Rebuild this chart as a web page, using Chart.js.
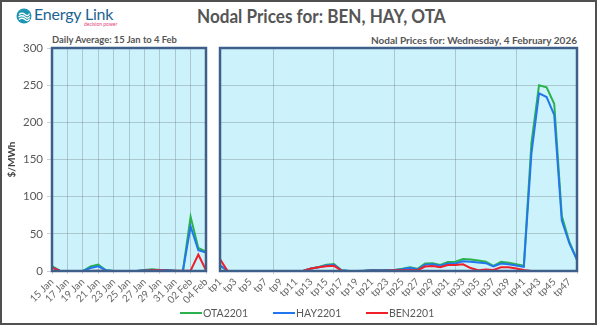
<!DOCTYPE html>
<html>
<head>
<meta charset="utf-8">
<script src="https://cdn.jsdelivr.net/npm/chart.js@4.4.1/dist/chart.umd.min.js"></script>
<style>
  body { margin: 0; background: #fff; font-family: Lato, "Open Sans", sans-serif; }
  #frame { position: absolute; left: 0; top: 0; width: 597px; height: 325px; box-sizing: border-box; border: 2px solid #505050; background: #fff; }
  .abs { position: absolute; white-space: nowrap; }
  #logoText { left: 34px; top: 4px; font-size: 16px; color: #1d6490; letter-spacing: -0.2px; }
  #logoSub { left: 84px; top: 21px; font-size: 5px; color: #e0457b; }
  #title { left: 197px; top: 4px; font-size: 19px; font-weight: bold; color: #555; transform-origin: left top; transform: scaleX(0.9); }
  #subLeft { left: 52px; top: 34px; font-size: 9.4px; font-weight: bold; color: #555; }
  #subRight { right: 23px; top: 34px; font-size: 10px; font-weight: bold; color: #555; }
  canvas { position: absolute; }
  .leg { position: absolute; top: 307px; font-size: 10.5px; color: #595959; }
  .leg i { display: inline-block; width: 22px; height: 2px; vertical-align: middle; margin-right: 1px; position: relative; top: -1px; }
</style>
</head>
<body>
<div id="frame"></div>
<svg class="abs" style="left:16px;top:8px" width="16" height="16" viewBox="0 0 16 16">
  <circle cx="8" cy="8" r="7.5" fill="#1b95b2"/>
  <path d="M3 6.5 Q6 4 9 6.5 T13.5 5.5" stroke="#fff" stroke-width="1.3" fill="none"/>
  <path d="M2.5 9 Q6 6.5 9 9 T14 8" stroke="#fff" stroke-width="1.3" fill="none"/>
  <path d="M3 11.5 Q6 9 9 11.5 T13.5 10.5" stroke="#fff" stroke-width="1.3" fill="none"/>
</svg>
<div id="logoText" class="abs">Energy Link</div>
<div id="logoSub" class="abs">decision power</div>
<div id="title" class="abs">Nodal Prices for: BEN, HAY, OTA</div>
<div id="subLeft" class="abs">Daily Average: 15 Jan to 4 Feb</div>
<div id="subRight" class="abs">Nodal Prices for: Wednesday, 4 February 2026</div>

<canvas id="dailyChart" style="left:0;top:44px" width="208" height="282"></canvas>
<canvas id="tpChart" style="left:200px;top:44px" width="381" height="282"></canvas>

<div class="leg" style="left:180px"><i style="background:#2bb24c"></i>OTA2201</div>
<div class="leg" style="left:273px"><i style="background:#2277ee"></i>HAY2201</div>
<div class="leg" style="left:366px"><i style="background:#f01f2a"></i>BEN2201</div>

<script>
/* data */
const days = ["15 Jan", "16 Jan", "17 Jan", "18 Jan", "19 Jan", "20 Jan", "21 Jan",
  "22 Jan", "23 Jan", "24 Jan", "25 Jan", "26 Jan", "27 Jan", "28 Jan", "29 Jan",
  "30 Jan", "31 Jan", "01 Feb", "02 Feb", "03 Feb", "04 Feb"];
const dailyOTA = [6.5, 0.5, 0, 0, 0, 6, 8.6, 1, 0, 0, 0, 0, 1.5, 2.5, 1.5, 1, 0.5, 0, 73, 31, 26];
const dailyHAY = [5, 0.5, 0, 0, 0, 4, 6.4, 1, 0, 0, 0, 0, 1, 1.5, 1.5, 1.5, 0.5, 0, 60, 28, 25];
const dailyBEN = [4.5, 0.5, 0, 0, 0, 0, 0.5, 0, 0, 0, 0, 0, 0.5, 1, 1, 0.5, 0.5, 0.5, 0.5, 22, 1];

const periods = [];
for (let i = 1; i <= 48; i++) periods.push("tp" + i);
const tpOTA = [7, 0, 0, 0, 0, 0, 0, 0, 0, 0, 0, 0.5, 3.5, 5.5, 8.5, 9.5, 1, 0, 0, 0.5,
  1.5, 1, 1.5, 1.5, 3, 5, 3, 10, 10.5, 8, 12, 12.5, 16, 15.5, 14, 12.5, 7, 12.5, 11, 9,
  7, 172, 250, 247, 225, 74, 39, 15];
const tpHAY = [8, 0, 0, 0, 0, 0, 0, 0, 0, 0, 0, 0.5, 3.5, 5, 7.5, 8.5, 1, 0, 0, 0.5,
  1, 1, 1, 1.5, 2.5, 4.5, 2, 8.5, 9, 7, 10, 10, 13, 12.5, 11.5, 10.5, 6, 10, 9, 7.5,
  5.5, 158, 239, 234, 210, 68, 37, 15];
const tpBEN = [16, 0, 0, 0, 0, 0, 0, 0, 0, 0, 0, 0.5, 3.5, 5, 6.5, 7, 0.5, 0, 0, 0,
  0.5, 0.5, 0.5, 1, 1, 1.5, 1, 6, 6.7, 5, 8, 8, 9, 4, 1, 2, 1.3, 5, 5, 3.5,
  1.3, 0, 0, 0, 0, 0, 0, 0];

const yMin = 0, yMax = 300, yStep = 50;

/* styles */
const colOTA = "#2bb24c", colHAY = "#2277ee", colBEN = "#f01f2a";
const gridCol = "rgba(110,120,125,0.35)";
const tickFont = { family: "Lato", size: 10 };

const plotFrame = {
  id: "plotFrame",
  beforeDraw(chart) {
    const a = chart.chartArea, ctx = chart.ctx;
    ctx.save();
    ctx.fillStyle = "#ccf3fb";
    ctx.fillRect(a.left, a.top, a.right - a.left, a.bottom - a.top);
    ctx.restore();
  },
  afterDraw(chart) {
    const a = chart.chartArea, ctx = chart.ctx;
    ctx.save();
    ctx.strokeStyle = "#3e5f8a";
    ctx.lineWidth = 2.5;
    ctx.strokeRect(a.left, a.top, a.right - a.left, a.bottom - a.top);
    ctx.restore();
  }
};

function lineSet(label, data, color, order) {
  return { label, data, borderColor: color, backgroundColor: color, borderWidth: 2,
    pointRadius: 0, tension: 0, order };
}

/* daily average chart */
new Chart(document.getElementById("dailyChart"), {
  type: "line",
  data: {
    labels: days,
    datasets: [
      lineSet("OTA2201", dailyOTA, colOTA, 3),
      lineSet("HAY2201", dailyHAY, colHAY, 2),
      lineSet("BEN2201", dailyBEN, colBEN, 1)
    ]
  },
  plugins: [plotFrame],
  options: {
    responsive: false,
    animation: false,
    layout: { padding: { top: 4, right: 2, left: 0, bottom: 0 } },
    plugins: { legend: { display: false }, tooltip: { enabled: false } },
    scales: {
      x: {
        grid: { color: ctx => ctx.index % 2 === 0 ? gridCol : "transparent", tickLength: 3 },
        border: { display: false },
        ticks: {
          autoSkip: false, minRotation: 45, maxRotation: 45, padding: 2,
          color: "#666", font: tickFont,
          callback(v, i) { return i % 2 === 0 ? this.getLabelForValue(v) : ""; }
        },
        afterFit(s) { s.height = 55; s.paddingLeft = 0; s.paddingRight = 0; }
      },
      y: {
        min: yMin, max: yMax,
        grid: { color: gridCol, tickLength: 5 },
        border: { display: false },
        ticks: { stepSize: yStep, color: "#595959", font: { family: "Lato", size: 11.5 }, padding: 4 },
        title: { display: true, text: "$/MWh", color: "#404040",
          font: { family: "Lato", size: 10, weight: "bold" }, padding: { top: 6, bottom: 0 } },
        afterFit(s) { s.width = 52; s.paddingTop = 0; s.paddingBottom = 0; }
      }
    }
  }
});

/* trading period chart */
new Chart(document.getElementById("tpChart"), {
  type: "line",
  data: {
    labels: periods,
    datasets: [
      lineSet("OTA2201", tpOTA, colOTA, 3),
      lineSet("HAY2201", tpHAY, colHAY, 2),
      lineSet("BEN2201", tpBEN, colBEN, 1)
    ]
  },
  plugins: [plotFrame],
  options: {
    responsive: false,
    animation: false,
    layout: { padding: { top: 4, right: 4, left: 20, bottom: 0 } },
    plugins: { legend: { display: false }, tooltip: { enabled: false } },
    scales: {
      x: {
        grid: { color: ctx => ctx.index % 8 === 7 ? gridCol : "transparent", tickLength: 3 },
        border: { display: false },
        ticks: {
          autoSkip: false, minRotation: 45, maxRotation: 45, padding: 2,
          color: "#666", font: tickFont,
          callback(v, i) { return i % 2 === 0 ? this.getLabelForValue(v) : ""; }
        },
        afterFit(s) { s.height = 55; s.paddingLeft = 0; s.paddingRight = 0; }
      },
      y: {
        min: yMin, max: yMax,
        grid: { color: gridCol, drawTicks: false },
        border: { display: false },
        ticks: { stepSize: yStep, display: false },
        afterFit(s) { s.width = 0; }
      }
    }
  }
});
</script>
</body>
</html>
